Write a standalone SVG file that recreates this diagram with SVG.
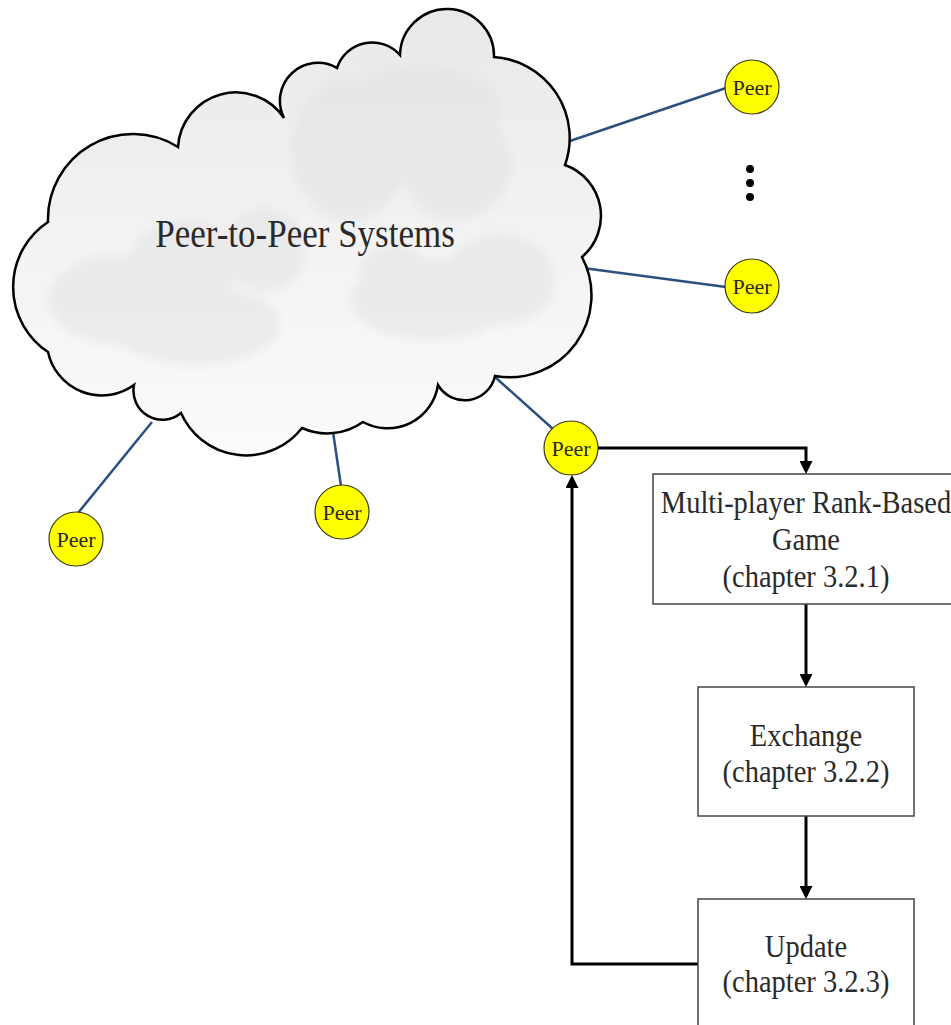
<svg xmlns="http://www.w3.org/2000/svg" width="951" height="1025" viewBox="0 0 951 1025">
<style>
.txt{font-family:"Liberation Serif","Times New Roman",serif;fill:#2a2a2a;text-anchor:middle}
.peer circle{fill:#ffff00;stroke:#3a3a1a;stroke-width:1.2}
.peer text{font-size:22px}
.link{stroke:#2c4f80;stroke-width:2.5;fill:none}
.flow{stroke:#000;stroke-width:3;fill:none;marker-end:url(#arr)}
.box rect{fill:#fff;stroke:#444;stroke-width:1.5}
.box text{font-size:28.5px}
</style>
<defs>
<marker id="arr" markerUnits="userSpaceOnUse" markerWidth="13" markerHeight="13" viewBox="0 0 13 13" refX="10" refY="6.5" orient="auto">
<path d="M0,0 L13,6.5 L0,13 z" fill="#000"/>
</marker>
<linearGradient id="cg" x1="0" y1="0" x2="0" y2="1">
<stop offset="0" stop-color="#e9e9e9"/>
<stop offset="0.6" stop-color="#f4f4f4"/>
<stop offset="1" stop-color="#fbfbfb"/>
</linearGradient>
<filter id="soft" x="-20%" y="-20%" width="140%" height="140%"><feGaussianBlur stdDeviation="4"/></filter>
<clipPath id="cc"><path d="M48,222 A85,85 0 0 1 178,147 A58,58 0 0 1 284,118 A38,38 0 0 1 337,68 A37,37 0 0 1 400,55 A47,47 0 0 1 494,57 A81,81 0 0 1 565,165 A54,54 0 0 1 582,257 A82,82 0 0 1 495,376 A31,31 0 0 1 438,385 A51,51 0 0 1 363,422 A62,62 0 0 1 302,428 A71,71 0 0 1 181,413 A29,29 0 0 1 134,385 A55,55 0 0 1 48,352 A78,78 0 0 1 48,222 Z"/></clipPath>
</defs>

<g id="connectors">
<line class="link" x1="567" y1="142" x2="726" y2="88"/>
<line class="link" x1="583" y1="268" x2="726" y2="287"/>
<line class="link" x1="495" y1="377" x2="553" y2="429"/>
<line class="link" x1="333" y1="432" x2="341" y2="486"/>
<line class="link" x1="152" y1="422" x2="78" y2="513"/>
<path class="flow" d="M598,448 H806 V471"/>
<path class="flow" d="M806,604 V684"/>
<path class="flow" d="M806,816 V896"/>
<path class="flow" d="M698,964 H572 V478"/>
</g>

<g id="cloud">
<path d="M48,222 A85,85 0 0 1 178,147 A58,58 0 0 1 284,118 A38,38 0 0 1 337,68 A37,37 0 0 1 400,55 A47,47 0 0 1 494,57 A81,81 0 0 1 565,165 A54,54 0 0 1 582,257 A82,82 0 0 1 495,376 A31,31 0 0 1 438,385 A51,51 0 0 1 363,422 A62,62 0 0 1 302,428 A71,71 0 0 1 181,413 A29,29 0 0 1 134,385 A55,55 0 0 1 48,352 A78,78 0 0 1 48,222 Z" fill="url(#cg)"/>
<g clip-path="url(#cc)" fill="#e0e0e0" opacity="0.45" filter="url(#soft)">
<ellipse cx="350" cy="150" rx="58" ry="70"/>
<ellipse cx="420" cy="110" rx="80" ry="45"/>
<ellipse cx="455" cy="165" rx="55" ry="55"/>
<ellipse cx="120" cy="300" rx="72" ry="45"/>
<ellipse cx="185" cy="265" rx="55" ry="45"/>
<ellipse cx="195" cy="325" rx="85" ry="40"/>
<ellipse cx="265" cy="250" rx="40" ry="42"/>
<ellipse cx="430" cy="300" rx="80" ry="40"/>
<ellipse cx="500" cy="280" rx="55" ry="45"/>
<ellipse cx="395" cy="275" rx="35" ry="30"/>
</g>
<path d="M48,222 A85,85 0 0 1 178,147 A58,58 0 0 1 284,118 A38,38 0 0 1 337,68 A37,37 0 0 1 400,55 A47,47 0 0 1 494,57 A81,81 0 0 1 565,165 A54,54 0 0 1 582,257 A82,82 0 0 1 495,376 A31,31 0 0 1 438,385 A51,51 0 0 1 363,422 A62,62 0 0 1 302,428 A71,71 0 0 1 181,413 A29,29 0 0 1 134,385 A55,55 0 0 1 48,352 A78,78 0 0 1 48,222 Z" fill="none" stroke="#000" stroke-width="2.5"/>
<text class="txt" font-size="35" transform="translate(305,247) scale(1,1.12)" x="0" y="0">Peer-to-Peer Systems</text>
</g>

<g id="peer1" class="peer"><circle cx="752" cy="87" r="27"/><text class="txt" x="752" y="95">Peer</text></g>
<g id="peer2" class="peer"><circle cx="752" cy="286" r="27"/><text class="txt" x="752" y="294">Peer</text></g>
<g id="peer3" class="peer"><circle cx="571" cy="448" r="27"/><text class="txt" x="571" y="456">Peer</text></g>
<g id="peer4" class="peer"><circle cx="342" cy="512" r="27"/><text class="txt" x="342" y="520">Peer</text></g>
<g id="peer5" class="peer"><circle cx="76" cy="539" r="27"/><text class="txt" x="76" y="547">Peer</text></g>

<g id="dots" fill="#000">
<circle cx="750" cy="169" r="4"/>
<circle cx="750" cy="183" r="4"/>
<circle cx="750" cy="197" r="4"/>
</g>

<g id="game" class="box">
<rect x="653" y="474" width="310" height="130"/>
<text class="txt" transform="translate(806,513) scale(1,1.12)" x="0" y="0">Multi-player Rank-Based</text>
<text class="txt" transform="translate(806,550) scale(1,1.12)" x="0" y="0">Game</text>
<text class="txt" transform="translate(806,587) scale(1,1.12)" x="0" y="0">(chapter 3.2.1)</text>
</g>

<g id="exchange" class="box">
<rect x="698" y="687" width="216" height="129"/>
<text class="txt" transform="translate(806,746) scale(1,1.12)" x="0" y="0">Exchange</text>
<text class="txt" transform="translate(806,782) scale(1,1.12)" x="0" y="0">(chapter 3.2.2)</text>
</g>

<g id="update" class="box">
<rect x="698" y="899" width="216" height="140"/>
<text class="txt" transform="translate(806,957) scale(1,1.12)" x="0" y="0">Update</text>
<text class="txt" transform="translate(806,992) scale(1,1.12)" x="0" y="0">(chapter 3.2.3)</text>
</g>
</svg>
